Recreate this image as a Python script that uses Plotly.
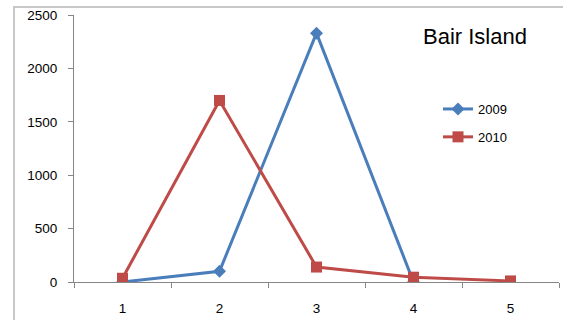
import plotly.graph_objects as go

categories = ["1", "2", "3", "4", "5"]
series_2009 = [0, 100, 2330, 0, None]
series_2010 = [35, 1700, 140, 45, 10]
y_ticks = [0, 500, 1000, 1500, 2000, 2500]
title_text = "Bair Island"

W, H = 563, 320
L, R, T, B = 74, 4, 15, 38
pw, ph = W - L - R, H - T - B

def px(x):
    return (x - L) / pw

def py(y):
    return 1 - (y - T) / ph

fig = go.Figure()
fig.add_trace(go.Scatter(
    x=categories, y=series_2009, name="2009", mode="lines+markers",
    legendgroup="a",
    line=dict(color="#4A7EBB", width=3),
    marker=dict(symbol="diamond", size=10, color="#4A7EBB"),
))
fig.add_trace(go.Scatter(
    x=categories, y=series_2010, name="2010", mode="lines+markers",
    legendgroup="b",
    line=dict(color="#BE4B48", width=3),
    marker=dict(symbol="square", size=11, color="#BE4B48"),
))

font = "Liberation Sans, Arial, sans-serif"
fig.update_layout(
    width=W, height=H,
    margin=dict(l=L, r=R, t=T, b=B, pad=0),
    paper_bgcolor="white", plot_bgcolor="white",
    showlegend=True,
    legend=dict(x=px(438), y=py(94), xanchor="left", yanchor="top",
                font=dict(family=font, size=13, color="#000000"),
                bgcolor="rgba(0,0,0,0)", tracegroupgap=8, itemwidth=30),
    font=dict(family=font, size=13, color="#000000"),
)
fig.update_xaxes(
    type="category", tickson="boundaries", ticks="outside", ticklen=5,
    tickcolor="#868686", showline=True, linecolor="#868686", linewidth=1,
    showgrid=False, zeroline=False, range=[-0.5, 4.5],
    tickfont=dict(family=font, size=13.5, color="#000000"),
    ticklabelstandoff=14,
)
fig.update_yaxes(
    range=[0, 2500], tickvals=y_ticks, ticks="outside", ticklen=5,
    tickcolor="#868686", showline=True, linecolor="#868686", linewidth=1,
    showgrid=False, zeroline=False,
    tickfont=dict(family=font, size=13.5, color="#000000"),
    ticklabelstandoff=8,
)
fig.add_annotation(
    text=title_text, xref="paper", yref="paper", x=px(475), y=py(37),
    xanchor="center", yanchor="middle", showarrow=False,
    font=dict(family=font, size=22, color="#000000"),
)
fig.add_shape(
    type="rect", xref="paper", yref="paper",
    x0=px(14), x1=px(600), y0=py(340), y1=py(7),
    line=dict(color="#C8C8C8", width=2), fillcolor="rgba(0,0,0,0)", layer="below",
)
fig.write_html("out.html", config={"displayModeBar": False},
               post_script="document.body.style.margin='0';")
